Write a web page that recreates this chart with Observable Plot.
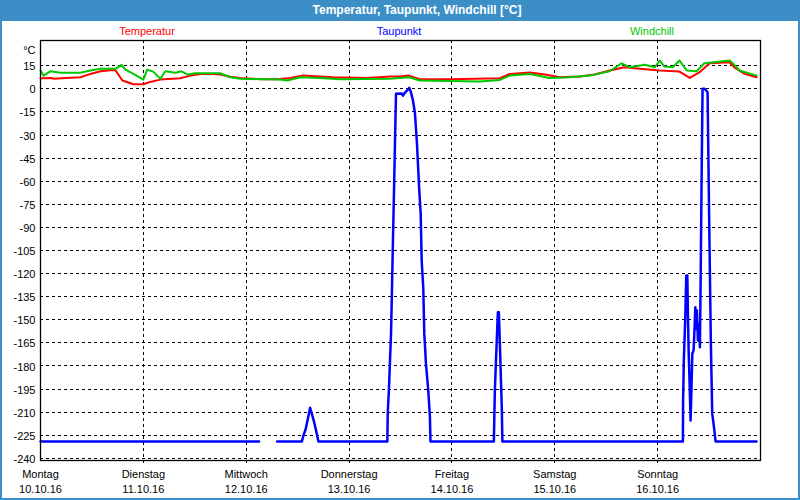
<!DOCTYPE html>
<html><head><meta charset="utf-8">
<script src="https://cdn.jsdelivr.net/npm/d3@7"></script>
<script src="https://cdn.jsdelivr.net/npm/@observablehq/plot@0.6"></script>
<style>
body{margin:0;background:#fff;}
#wrap{position:relative;width:800px;height:500px;overflow:hidden;font-family:"Liberation Sans",Arial,sans-serif;background:#fff;}
#title{position:absolute;left:0;top:0;width:800px;height:21px;background:#3c8fc6;color:#fff;font-weight:bold;font-size:12px;line-height:21px;}
#title span{position:absolute;left:417px;transform:translateX(-50%);white-space:nowrap;}
#border{position:absolute;left:0;top:0;width:800px;height:500px;border:2px solid #3c8fc6;box-sizing:border-box;pointer-events:none;}
.leg{position:absolute;top:25px;font-size:11px;line-height:13px;transform:translateX(-50%);white-space:nowrap;}
#chart{position:absolute;left:0;top:21px;}
</style></head>
<body>
<div id="wrap">
  <div id="chart"></div>
  <div id="title"><span>Temperatur, Taupunkt, Windchill [°C]</span></div>
  <div id="legend"></div>
  <div id="border"></div>
</div>
<script>
// ---- data ----
const startDate = Date.UTC(2016, 9, 10); // Montag 10.10.16 00:00
const dayNames = ["Montag","Dienstag","Mittwoch","Donnerstag","Freitag","Samstag","Sonntag"];
const dayDates = ["10.10.16","11.10.16","12.10.16","13.10.16","14.10.16","15.10.16","16.10.16"];
const yTicks = [15,0,-15,-30,-45,-60,-75,-90,-105,-120,-135,-150,-165,-180,-195,-210,-225,-240];
const seriesNames = ["Temperatur","Taupunkt","Windchill"];
const seriesColors = ["#ff0000","#0000ff","#00c800"];

// hours since Monday 00:00
const tempHours = [0,2.8,3.0,9.3,11.65,14.0,16.3,17.5,19.1,21.7,24.0,25.6,28.0,32.6,35.0,37.3,40.3,41.9,44.3,46.6,51.3,55.2,58.3,61.3,65.2,68.3,76.2,81.6,83.9,86.0,88.5,95.5,107.2,109.5,114.2,117.7,121.2,125.8,129.3,132.8,136.3,139.8,144.5,149.1,151.5,153.8,156.1,160.8,161.9,164.3,167.1];
const tempValues = [6.9,7.0,6.5,7.5,9.7,11.4,12.1,12.1,5.4,3.0,3.0,4.5,6.0,6.9,8.6,9.7,9.7,9.3,7.8,7.1,6.2,6.2,7.1,8.6,8.0,7.5,7.1,8.0,8.0,8.6,6.2,6.2,6.9,9.7,10.6,9.3,7.5,8.0,9.3,11.9,14.0,13.0,11.9,11.2,7.1,10.8,16.6,17.3,14.0,9.7,7.5];

const chillHours = [0,0.7,2.3,4.7,9.3,11.65,14.0,17.5,18.9,19.8,21.7,24.0,24.9,26.3,28.0,29.1,31.5,32.9,34.3,36.1,41.9,44.3,46.6,55.9,57.6,60.6,65.2,69.9,81.6,86.0,88.5,102.5,107.2,109.5,114.2,118.8,123.5,128.2,132.8,135.6,137.5,141.0,143.3,144.5,145.6,147.5,149.1,150.8,153.1,154.9,160.8,161.9,163.1,167.1];
const chillValues = [11.9,8.6,11.4,10.4,10.4,11.9,13.0,13.0,15.6,12.5,9.7,6.0,12.5,11.2,6.5,11.4,10.4,11.4,9.3,10.1,10.1,7.5,6.5,6.0,5.4,7.5,7.1,6.2,6.5,7.5,5.4,4.7,5.8,8.6,9.7,7.1,7.5,8.6,11.4,16.6,14.0,15.6,14.0,18.4,14.5,14.0,18.4,11.9,11.4,16.6,18.4,15.6,11.9,8.6];

const dewHours = [0,51.0,53.1,55.2,61.0,61.35,61.9,62.3,62.7,62.9,63.3,63.85,64.3,64.85,80.93,81.02,81.32,81.55,81.79,82.02,82.25,82.49,82.72,82.95,84.28,84.58,85.05,85.51,86.05,86.45,86.91,87.38,87.84,88.38,88.71,88.94,89.31,89.55,89.94,90.48,90.87,90.99,105.79,105.9,106.02,106.25,106.48,106.72,106.95,107.18,107.42,107.65,107.77,149.89,149.94,150.12,150.45,150.68,150.92,151.06,151.22,151.46,151.69,151.86,152.09,152.39,152.62,152.79,153.02,153.16,153.39,153.62,153.86,154.02,154.25,154.48,154.95,155.34,155.65,156.0,156.42,156.74,157.04,157.28,157.51,167.07];
const dewValues = [-229,-229,null,-229,-229,-225.2,-220.8,-215.4,-210,-207.2,-210.9,-216.5,-221.9,-229,-229,-210.9,-194,-176.5,-159,-129,-96.5,-66,-33.6,-3.2,-3.1,-4.4,-2.4,-1.1,0.6,-2.4,-7.6,-16,-35.5,-66,-81,-111.5,-129,-159,-178.5,-196,-213.5,-229,-229,-212,-195.9,-178.4,-162.1,-145.1,-145.1,-165.4,-187.3,-209,-229,-229,-202.4,-175.3,-148.3,-121.2,-121.2,-145.1,-168.8,-191.6,-215.4,-198.1,-172.1,-169.9,-154.8,-141.8,-155.9,-143.9,-163.5,-152.6,-167.8,-127.7,-60,0,0,-1.1,-2.2,-80,-165.6,-211,-217.5,-223,-229,-229];

// ---- build ----
const toDate = h => new Date(startDate + h * 3600e3);
const mk = (hs, vs) => hs.map((h, i) => ({t: toDate(h), v: vs[i] == null ? NaN : vs[i]}));
const temp = mk(tempHours, tempValues);
const chill = mk(chillHours, chillValues);
const dew = mk(dewHours, dewValues);
const dayTicks = dayNames.map((_, i) => new Date(startDate + i * 864e5));
const gridDays = dayTicks.slice(1);
const dayIndex = d => Math.round((d - startDate) / 864e5);

const chart = Plot.plot({
  width: 800, height: 479,
  marginLeft: 40, marginRight: 40, marginTop: 19, marginBottom: 40,
  x: {type: "utc", domain: [new Date(startDate), new Date(startDate + 7 * 864e5)]},
  y: {domain: [-241.4, 31.4]},
  style: {fontFamily: "'Liberation Sans', Arial, sans-serif", fontSize: "11px", background: "white", color: "black", overflow: "visible"},
  marks: [
    Plot.ruleY(yTicks, {stroke: "black", strokeWidth: 1, strokeDasharray: "3,3", shapeRendering: "crispEdges"}),
    Plot.ruleX(gridDays, {stroke: "black", strokeWidth: 1, strokeDasharray: "3,3", insetBottom: -3, shapeRendering: "crispEdges"}),
    Plot.line(temp, {x: "t", y: "v", stroke: seriesColors[0], strokeWidth: 2, curve: "linear"}),
    Plot.line(chill, {x: "t", y: "v", stroke: seriesColors[2], strokeWidth: 2, curve: "linear"}),
    Plot.line(dew, {x: "t", y: "v", stroke: seriesColors[1], strokeWidth: 2.5, curve: "linear"}),
    Plot.frame({stroke: "black", strokeWidth: 1.3}),
    Plot.axisY(yTicks, {tickSize: 0, tickPadding: 5, fontSize: 11, dy: 1, tickFormat: d => String(d), label: null}),
    Plot.axisX(dayTicks, {tickSize: 0, tickPadding: 10, fontSize: 11, tickFormat: d => dayNames[dayIndex(d)], label: null}),
    Plot.axisX(dayTicks, {tickSize: 0, tickPadding: 25, fontSize: 11, tickFormat: d => dayDates[dayIndex(d)], label: null}),
    Plot.text(["°C"], {frameAnchor: "top-left", dx: -5, dy: 6, textAnchor: "end", fontSize: 11})
  ]
});
document.getElementById("chart").appendChild(chart);

const legendX = [147, 399, 652];
const legend = document.getElementById("legend");
seriesNames.forEach((n, i) => {
  const s = document.createElement("span");
  s.className = "leg";
  s.style.left = legendX[i] + "px";
  s.style.color = seriesColors[i];
  s.textContent = n;
  legend.appendChild(s);
});
</script>
</body></html>
